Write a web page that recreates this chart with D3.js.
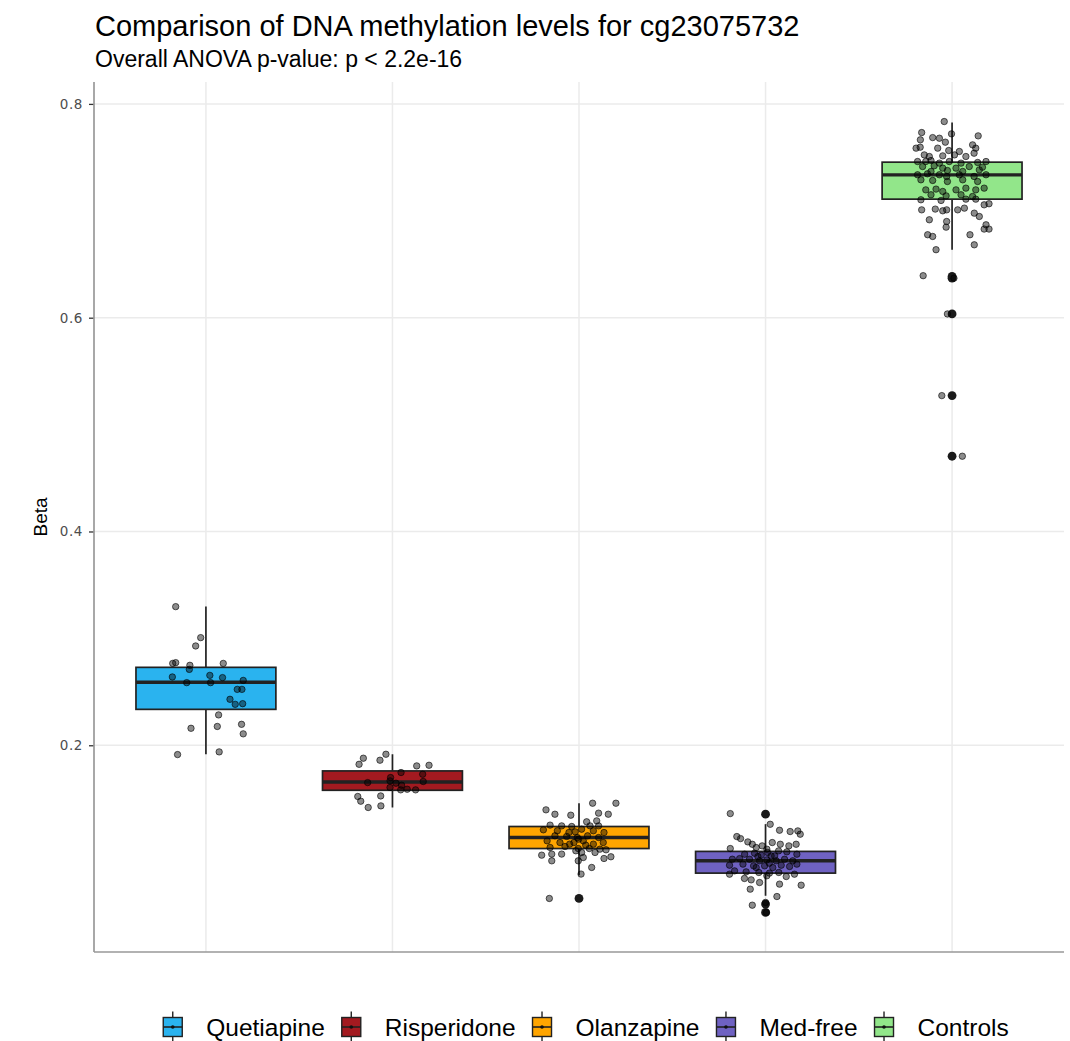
<!DOCTYPE html>
<html>
<head>
<meta charset="utf-8">
<script src="https://cdn.jsdelivr.net/npm/d3@7"></script>
<style>
  html, body { margin: 0; padding: 0; background: #fff; }
  svg { display: block; font-family: "Liberation Sans", Arial, sans-serif; }
</style>
</head>
<body>
<svg id="chart" width="1070" height="1041"></svg>
<script>
// ---- data ---------------------------------------------------------------
const groups = ["Quetiapine", "Risperidone", "Olanzapine", "Med-free", "Controls"];
const groupColors = ["#2AB3EF", "#A31A20", "#FFA500", "#6F62C2", "#92E68A"];

// box statistics per group: lower whisker, Q1, median, Q3, upper whisker
const whiskerLow = [0.1916, 0.1418, 0.0785, 0.0592, 0.6636];
const quartile1  = [0.2336, 0.1579, 0.1034, 0.0804, 0.7109];
const medians    = [0.2589, 0.1657, 0.1137, 0.0919, 0.7336];
const quartile3  = [0.2729, 0.1760, 0.1240, 0.1007, 0.7455];
const whiskerHigh= [0.3299, 0.1916, 0.1458, 0.1262, 0.7825];

// outlying values drawn by the boxplot layer
const outliers = [
  [],
  [],
  [0.0567],
  [0.1355, 0.0514, 0.0436],
  [0.6386, 0.6370, 0.6035, 0.5271, 0.4704]
];

// individual samples: [beta, horizontal jitter in category steps]
const quetiapinePts = [
  [0.3297,-0.162],[0.3007,-0.028],[0.2929,-0.055],[0.2766,-0.178],[0.2773,-0.162],
  [0.2748,-0.086],[0.2766,0.093],[0.2710,-0.089],[0.2639,-0.180],[0.2654,0.021],
  [0.2633,0.089],[0.2586,-0.103],[0.2586,0.025],[0.2607,0.200],[0.2523,0.168],
  [0.2523,0.193],[0.2430,0.129],[0.2383,0.157],[0.2389,0.197],[0.2284,0.068],
  [0.2159,-0.080],[0.2176,0.061],[0.2196,0.191],[0.2107,0.200],[0.1913,-0.152],
  [0.1938,0.071]
];
const risperidonePts = [
  [0.1879,-0.156],[0.1822,-0.179],[0.1916,-0.035],[0.1860,-0.067],[0.1807,0.130],
  [0.1813,0.196],[0.1745,0.046],[0.1729,0.162],[0.1698,-0.010],[0.1667,-0.013],
  [0.1651,-0.133],[0.1661,0.165],[0.1645,0.019],[0.1605,-0.013],[0.1626,0.049],
  [0.1583,0.044],[0.1589,0.079],[0.1583,0.124],[0.1521,-0.186],[0.1477,-0.170],
  [0.1526,-0.063],[0.1418,-0.130],[0.1433,-0.062]
];
const olanzapinePts = [
  [0.1458,0.073],[0.1458,0.198],[0.1396,-0.177],[0.1355,-0.129],[0.1346,-0.044],
  [0.1365,0.105],[0.1355,0.157],[0.1284,0.041],[0.1293,0.095],[0.1246,0.105],
  [0.1253,-0.155],[0.1246,-0.093],[0.1240,-0.039],[0.1209,-0.191],[0.1215,0.014],
  [0.1200,0.077],[0.1184,0.134],[0.1153,-0.129],[0.1147,-0.066],[0.1137,-0.009],
  [0.1153,0.046],[0.1137,0.105],[0.1106,-0.171],[0.1090,-0.102],[0.1090,-0.027],
  [0.1106,0.023],[0.1075,0.077],[0.1090,0.130],[0.1044,-0.155],[0.1053,-0.075],
  [0.1034,-0.004],[0.1034,0.055],[0.1028,0.112],[0.0972,-0.200],[0.0982,-0.146],
  [0.0982,-0.093],[0.0997,0.014],[0.0997,0.086],[0.1022,0.145],[0.0919,-0.146],
  [0.0919,-0.004],[0.0950,0.023],[0.0941,0.134],[0.0957,0.171],[0.0857,0.068],
  [0.0795,0.011],[0.0567,-0.159],[0.1190,-0.020],[0.1122,-0.002],[0.1075,-0.050],
  [0.1066,0.036],[0.1013,-0.017],[0.1184,-0.054],[0.1246,0.059],[0.1200,-0.116]
];
const medFreePts = [
  [0.1361,-0.189],[0.1261,0.025],[0.1205,0.075],[0.1193,0.132],[0.1199,0.173],
  [0.1168,0.186],[0.1146,-0.154],[0.1127,-0.134],[0.1096,-0.095],[0.1074,-0.071],
  [0.1090,0.036],[0.1074,0.079],[0.1043,-0.050],[0.1074,0.164],[0.1059,0.125],
  [0.1034,-0.189],[0.1028,0.007],[0.1012,0.070],[0.1003,0.114],[0.0981,-0.112],
  [0.0990,-0.059],[0.0972,-0.023],[0.0965,0.030],[0.0981,0.168],[0.0934,-0.178],
  [0.0940,-0.139],[0.0934,-0.086],[0.0919,-0.032],[0.0928,0.007],[0.0919,0.057],
  [0.0934,0.102],[0.0919,0.146],[0.0878,-0.193],[0.0888,-0.121],[0.0872,-0.064],
  [0.0872,-0.005],[0.0856,0.039],[0.0878,0.084],[0.0866,0.129],[0.0888,0.168],
  [0.0825,-0.166],[0.0816,-0.104],[0.0810,-0.036],[0.0804,0.021],[0.0810,0.071],
  [0.0794,0.155],[0.0794,-0.193],[0.0754,-0.113],[0.0741,-0.077],[0.0779,0.007],
  [0.0772,0.111],[0.0716,-0.032],[0.0701,0.075],[0.0654,-0.082],[0.0691,0.191],
  [0.0585,0.061],[0.0504,-0.071],[0.1059,-0.018],[0.0997,0.011],[0.0959,-0.041],
  [0.0897,0.020],[0.0965,0.049],[0.0856,-0.050],[0.0530,0.000],[0.0436,0.005]
];
const controlsPts = [
  [0.7835,-0.042],[0.7720,-0.003],[0.7732,-0.163],[0.7664,-0.170],[0.7685,-0.104],
  [0.7679,-0.068],[0.7642,-0.036],[0.7701,0.140],[0.7586,-0.193],[0.7595,-0.171],
  [0.7586,-0.077],[0.7564,-0.018],[0.7555,0.039],[0.7617,0.110],[0.7586,0.127],
  [0.7539,0.118],[0.7523,-0.149],[0.7508,-0.122],[0.7514,-0.050],[0.7523,0.013],
  [0.7508,0.074],[0.7461,-0.185],[0.7470,-0.113],[0.7461,-0.015],[0.7446,0.048],
  [0.7452,0.137],[0.7461,0.182],[0.7414,-0.158],[0.7421,-0.096],[0.7399,-0.050],
  [0.7399,0.021],[0.7414,0.092],[0.7408,0.163],[0.7337,-0.185],[0.7346,-0.132],
  [0.7337,-0.068],[0.7321,-0.029],[0.7337,0.039],[0.7321,0.118],[0.7337,0.182],
  [0.7290,-0.167],[0.7284,-0.104],[0.7274,-0.025],[0.7290,0.057],[0.7274,0.137],
  [0.7196,-0.141],[0.7203,-0.086],[0.7181,-0.050],[0.7196,0.021],[0.7212,0.074],
  [0.7196,0.127],[0.7212,0.172],[0.7150,-0.113],[0.7140,-0.032],[0.7150,0.048],
  [0.7134,0.110],[0.7103,-0.167],[0.7097,-0.059],[0.7109,0.074],[0.7109,0.127],
  [0.7056,0.172],[0.7066,0.198],[0.7009,-0.163],[0.7016,-0.090],[0.7000,-0.050],
  [0.7009,-0.029],[0.7009,0.030],[0.7025,0.066],[0.6978,0.119],[0.6947,0.146],
  [0.6916,-0.122],[0.6900,-0.029],[0.6847,-0.032],[0.6869,0.182],[0.6829,0.172],
  [0.6829,0.198],[0.6776,-0.131],[0.6760,-0.104],[0.6776,0.096],[0.6682,0.119],
  [0.6636,-0.086],[0.6393,-0.155],[0.6370,0.010],[0.6035,-0.025],[0.5271,-0.055],
  [0.4704,0.055],[0.7368,-0.113],[0.7377,-0.025],[0.7368,0.057],[0.7383,0.146],
  [0.7461,-0.141],[0.7446,-0.068]
];
const samplePoints = [quetiapinePts, risperidonePts, olanzapinePts, medFreePts, controlsPts];

const yTicks = [0.2, 0.4, 0.6, 0.8];
const titleText = "Comparison of DNA methylation levels for cg23075732";
const subtitleText = "Overall ANOVA p-value: p < 2.2e-16";
const yAxisTitle = "Beta";

// ---- layout -------------------------------------------------------------
const svg = d3.select("#chart");
const panel = { left: 94, right: 1064, top: 82, bottom: 952 };

// y range padded by 5% of the data span on both sides
const allValues = samplePoints.flat().map(d => d[0]).concat(outliers.flat(), whiskerLow, whiskerHigh);
const yMin = d3.min(allValues), yMax = d3.max(allValues);
const pad = (yMax - yMin) * 0.05;
const y = d3.scaleLinear().domain([yMin - pad, yMax + pad]).range([panel.bottom, panel.top]);

const x = d3.scalePoint().domain(groups).range([panel.left, panel.right]).padding(0.6);
const step = x.step();
const boxWidth = step * 0.75;

// ---- grid ---------------------------------------------------------------
const grid = svg.append("g");
grid.selectAll("line.h").data(yTicks).join("line")
  .attr("x1", panel.left).attr("x2", panel.right)
  .attr("y1", d => y(d)).attr("y2", d => y(d))
  .attr("stroke", "#EBEBEB").attr("stroke-width", 1.5);
grid.selectAll("line.v").data(groups).join("line")
  .attr("x1", d => x(d)).attr("x2", d => x(d))
  .attr("y1", panel.top).attr("y2", panel.bottom)
  .attr("stroke", "#EBEBEB").attr("stroke-width", 1.5);

// ---- y axis -------------------------------------------------------------
const yAxis = svg.append("g")
  .attr("transform", `translate(${panel.left},0)`)
  .call(d3.axisLeft(y).tickValues(yTicks).tickFormat(d3.format(".1f")).tickSize(5).tickPadding(6));
yAxis.select(".domain").remove();
yAxis.selectAll(".tick line").attr("stroke", "#333").attr("stroke-width", 1.3);
yAxis.selectAll(".tick text")
  .attr("fill", "#4D4D4D")
  .style("font-family", "'DejaVu Sans', sans-serif")
  .style("font-size", "13.5px")
  .style("letter-spacing", "0.6px");

// axis lines
svg.append("line")
  .attr("x1", panel.left).attr("x2", panel.left)
  .attr("y1", panel.top).attr("y2", panel.bottom)
  .attr("stroke", "#999").attr("stroke-width", 1.7);
svg.append("line")
  .attr("x1", panel.left).attr("x2", panel.right)
  .attr("y1", panel.bottom).attr("y2", panel.bottom)
  .attr("stroke", "#999").attr("stroke-width", 1.7);

// ---- boxplots -----------------------------------------------------------
const boxes = svg.append("g");
groups.forEach((g, i) => {
  const cx = x(g);
  const gEl = boxes.append("g");
  gEl.append("line")
    .attr("x1", cx).attr("x2", cx)
    .attr("y1", y(whiskerHigh[i])).attr("y2", y(quartile3[i]))
    .attr("stroke", "#222").attr("stroke-width", 1.7);
  gEl.append("line")
    .attr("x1", cx).attr("x2", cx)
    .attr("y1", y(quartile1[i])).attr("y2", y(whiskerLow[i]))
    .attr("stroke", "#222").attr("stroke-width", 1.7);
  gEl.append("rect")
    .attr("x", cx - boxWidth / 2).attr("width", boxWidth)
    .attr("y", y(quartile3[i])).attr("height", y(quartile1[i]) - y(quartile3[i]))
    .attr("fill", groupColors[i]).attr("stroke", "#222").attr("stroke-width", 1.7);
  gEl.append("line")
    .attr("x1", cx - boxWidth / 2).attr("x2", cx + boxWidth / 2)
    .attr("y1", y(medians[i])).attr("y2", y(medians[i]))
    .attr("stroke", "#222").attr("stroke-width", 3.4);
  gEl.selectAll("circle").data(outliers[i]).join("circle")
    .attr("cx", cx).attr("cy", d => y(d)).attr("r", 4.4)
    .attr("fill", "#1A1A1A");
});

// ---- jittered samples ---------------------------------------------------
const pts = svg.append("g");
groups.forEach((g, i) => {
  pts.append("g").selectAll("circle").data(samplePoints[i]).join("circle")
    .attr("cx", d => x(g) + d[1] * step)
    .attr("cy", d => y(d[0]))
    .attr("r", 3.2)
    .attr("fill", "#000").attr("fill-opacity", 0.45)
    .attr("stroke", "#000").attr("stroke-opacity", 0.6).attr("stroke-width", 1);
});

// ---- titles -------------------------------------------------------------
svg.append("text").attr("x", 95).attr("y", 36)
  .attr("font-size", 29).attr("fill", "#000").text(titleText);
svg.append("text").attr("x", 95).attr("y", 67)
  .attr("font-size", 23).attr("fill", "#000").text(subtitleText);
svg.append("text")
  .attr("transform", `translate(47,${(panel.top + panel.bottom) / 2}) rotate(-90)`)
  .attr("text-anchor", "middle").attr("font-size", 19).attr("fill", "#000")
  .text(yAxisTitle);

// ---- legend -------------------------------------------------------------
const legend = svg.append("g");
const keyW = 19, keyH = 19, keyGap = 24, itemGap = 17, legendY = 1027;
let cursor = 0;
groups.forEach((g, i) => {
  const item = legend.append("g");
  item.append("line")
    .attr("x1", keyW / 2).attr("x2", keyW / 2)
    .attr("y1", -keyH / 2 - 6).attr("y2", keyH / 2 + 6)
    .attr("stroke", "#222").attr("stroke-width", 1.4);
  item.append("rect")
    .attr("x", 0).attr("y", -keyH / 2).attr("width", keyW).attr("height", keyH)
    .attr("fill", groupColors[i]).attr("stroke", "#222").attr("stroke-width", 1.4);
  item.append("line")
    .attr("x1", 0).attr("x2", keyW).attr("y1", 0).attr("y2", 0)
    .attr("stroke", "#222").attr("stroke-width", 1.6);
  item.append("circle").attr("cx", keyW / 2).attr("cy", 0).attr("r", 1.8).attr("fill", "#111");
  const t = item.append("text")
    .attr("x", keyW + keyGap).attr("y", 8.5)
    .attr("font-size", 24.5).attr("fill", "#000").text(g);
  const w = keyW + keyGap + t.node().getComputedTextLength();
  item.attr("transform", `translate(${cursor},${legendY})`);
  cursor += w + itemGap;
});
const legendWidth = cursor - itemGap;
legend.attr("transform", `translate(${586 - legendWidth / 2},0)`);
</script>
</body>
</html>
